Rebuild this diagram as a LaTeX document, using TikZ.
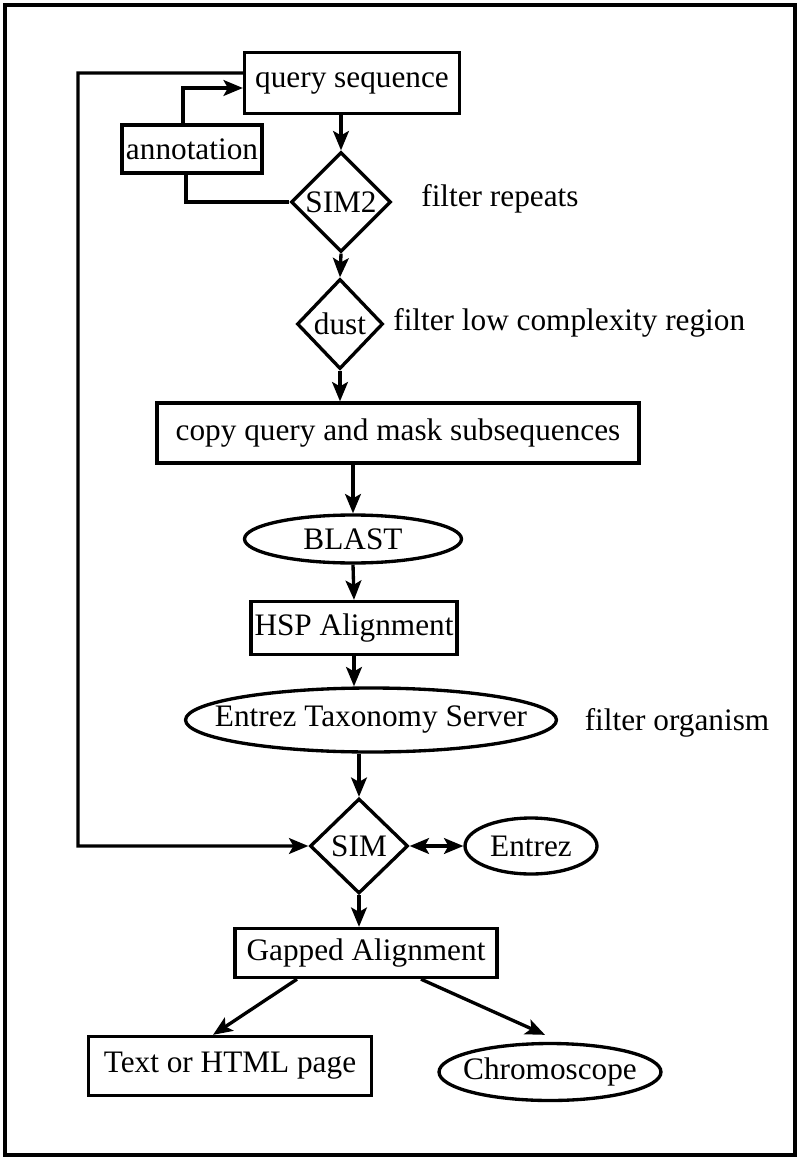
\documentclass[tikz,border=0pt]{standalone}
\usepackage{fontspec}
\setmainfont{Liberation Serif}
\usetikzlibrary{positioning,arrows.meta,shapes.geometric}
\newcommand{\flowfont}{\fontsize{17.8}{20}\selectfont}
\tikzset{
  flow line/.style={
    line width=1.9pt
  },
  flow arrow/.style={
    flow line,
    -{Stealth[length=11pt,width=9pt,inset=2.5pt]}
  },
  process/.style={
    draw, line width=1.9pt,
    inner sep=0pt,
    font=\flowfont
  },
  decision/.style={
    process, diamond
  },
  oval/.style={
    process, ellipse
  },
  remark/.style={
    inner sep=0pt,
    font=\flowfont
  },
}

\begin{document}
\begin{tikzpicture}[x=0.02cm,y=-0.02cm]
  \useasboundingbox (0,0) rectangle (800,1158);
  \draw[line width=2pt] (5,5) rectangle (795,1155);

  % main column
  \node[process, minimum width=4.3cm, minimum height=1.22cm] (query) at (352,83) {query sequence};
  \node[process, minimum width=2.8cm, minimum height=0.96cm] (annot) at (192,149) {annotation};
  \node[decision, minimum width=2cm, minimum height=2cm] (sim2) at (341,202) {SIM2};
  \node[remark, anchor=west] (repeats) at (421,199) {filter repeats};
  \node[decision, minimum width=1.72cm, minimum height=1.8cm] (dust) at (340,324) {dust};
  \node[remark, anchor=west] (lowcomp) at (393,323) {filter low complexity region};
  \node[process, minimum width=9.64cm, minimum height=1.2cm] (mask) at (398,433) {copy query and mask subsequences};
  \node[oval, minimum width=4.34cm, minimum height=0.96cm] (blast) at (353,539) {BLAST};
  \node[process, minimum width=4.12cm, minimum height=1.06cm] (hsp) at (354,628) {HSP Alignment};
  \node[oval, minimum width=7.42cm, minimum height=1.28cm] (taxon) at (371,720) {\makebox[0pt]{Entrez Taxonomy Server}};
  \node[remark] (organism) at (677,723) {filter organism};
  \node[decision, minimum width=1.96cm, minimum height=1.9cm] (sim) at (359,846) {SIM};
  \node[oval, minimum width=2.64cm, minimum height=1.12cm] (entrez) at (531,846) {Entrez};
  \node[process, minimum width=5.24cm, minimum height=0.98cm] (gapped) at (366,953) {Gapped Alignment};
  \node[process, minimum width=5.66cm, minimum height=1.18cm] (page) at (230,1066) {Text or HTML page};
  \node[oval, minimum width=4.44cm, minimum height=1.14cm] (chromo) at (550,1072) {\makebox[0pt]{Chromoscope}};

  % loop back
  \coordinate (loop top) at (78,73);

  \draw[flow arrow] (sim2.north |- query.south) -- (sim2.north);
  \draw[flow arrow] (sim2.south) -- (dust.north);
  \draw[flow arrow] (dust.south) -- (dust.south |- mask.north);
  \draw[flow arrow] (blast.north |- mask.south) -- (blast.north);
  \draw[flow arrow] (blast.south) -- (hsp.north);
  \draw[flow arrow] (hsp.south) -- (hsp.south |- taxon.north);
  \draw[flow arrow] (sim.north |- taxon.south) -- (sim.north);
  \draw[flow arrow] (sim.south) -- (sim.south |- gapped.north);
  \draw[flow line, {Stealth[length=11pt,width=9pt,inset=2.5pt]}-{Stealth[length=11pt,width=9pt,inset=2.5pt]}]
    (sim.east) -- (entrez.west);
  \draw[flow arrow] ([xshift=-1.38cm]gapped.south) -- ([xshift=-0.34cm]page.north);
  \draw[flow arrow] ([xshift=1.1cm]gapped.south) -- ([xshift=-0.1cm,yshift=0.14cm]chromo.north);

  \draw[flow arrow] ([xshift=-0.18cm]annot.north) |- ([yshift=-0.1cm]query.west);
  \draw[flow line] (sim2.west) -| ([xshift=-0.12cm]annot.south);
  \draw[flow arrow] ([yshift=0.2cm]query.west) -- (loop top) |- (sim.west);
\end{tikzpicture}
\end{document}
